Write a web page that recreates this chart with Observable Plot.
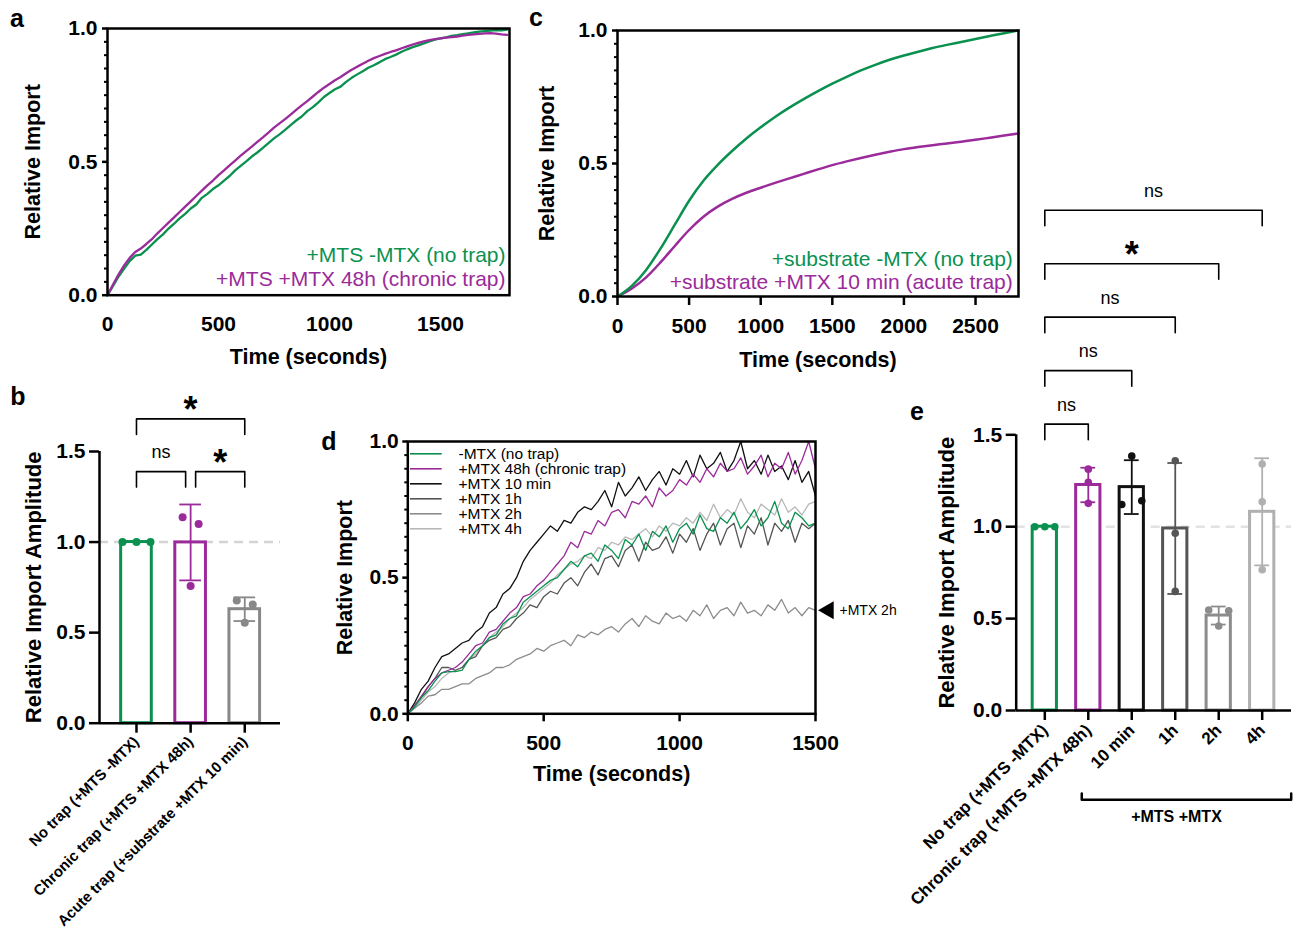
<!DOCTYPE html>
<html>
<head>
<meta charset="utf-8">
<script src="https://cdn.jsdelivr.net/npm/d3@7"></script>
<script src="https://cdn.jsdelivr.net/npm/@observablehq/plot@0.6"></script>
<style>
html,body{margin:0;padding:0;background:#fff;}
#fig{position:relative;width:1293px;height:936px;overflow:hidden;background:#fff;font-family:"Liberation Sans",Arial,Helvetica,sans-serif;}
.tag{position:absolute;font-weight:bold;font-size:25px;line-height:1;transform:translate(-50%,-50%);}
</style>
</head>
<body>
<div id="fig"></div>
<script>
// ================= DATA =================
const GREEN = "#0a914f", PURPLE = "#9b2a9a";

// ---- panel a : import kinetics, +MTS (time grid every 25 s)
const aTime = d3.range(0, 1801, 25);
const aNoTrap = [0,.035,.07,.1,.128,.148,.152,.17,.19,.21,
  .228,.25,.268,.288,.305,.325,.34,.365,.38,.398,
  .412,.43,.447,.468,.485,.502,.52,.535,.552,.57,
  .588,.603,.62,.638,.655,.67,.69,.705,.723,.743,
  .758,.772,.782,.8,.815,.828,.84,.853,.862,.873,
  .885,.893,.902,.913,.922,.93,.937,.944,.952,.958,
  .963,.967,.972,.975,.979,.982,.985,.988,.99,.992,
  .994,.993,.996];
const aChronic = [0,.04,.078,.112,.14,.162,.175,.192,.21,.232,
  .252,.272,.292,.312,.332,.352,.372,.392,.412,.43,
  .45,.468,.487,.505,.523,.54,.557,.575,.592,.61,
  .628,.644,.66,.677,.695,.712,.728,.745,.762,.778,
  .792,.806,.818,.832,.845,.857,.868,.879,.889,.897,
  .905,.912,.918,.926,.933,.94,.946,.952,.956,.96,
  .963,.966,.968,.97,.973,.976,.978,.98,.982,.983,
  .981,.978,.976];
const aNames = ["+MTS -MTX (no trap)", "+MTS +MTX 48h (chronic trap)"];

// ---- panel c : import kinetics, +substrate (time grid every 100 s)
const cTime = d3.range(0, 2801, 100);
const cNoTrap = [0,.04,.10,.18,.27,.36,.435,.495,.547,.594,.636,.675,.71,.742,.772,.8,.826,.85,.871,.89,.906,.92,.934,.946,.957,.968,.979,.99,1.0];
const cAcute = [0,.03,.072,.128,.19,.25,.30,.338,.367,.39,.409,.427,.444,.461,.478,.494,.508,.521,.533,.544,.554,.562,.569,.575,.582,.589,.597,.605,.613];
const cNames = ["+substrate -MTX (no trap)", "+substrate +MTX 10 min (acute trap)"];

// ---- panel d : import kinetics after MTX pre-incubation (time grid every 25 s)
const dTime = d3.range(0, 1501, 25);
const dNoTrap = [0,.025,.06,.085,.12,.15,.155,.155,.16,.2,
  .23,.25,.28,.29,.33,.35,.36,.41,.43,.45,
  .47,.49,.5,.53,.56,.54,.58,.59,.56,.62,
  .6,.57,.64,.62,.66,.6,.67,.65,.69,.63,
  .68,.7,.66,.73,.68,.67,.72,.7,.74,.68,
  .71,.75,.69,.72,.78,.7,.68,.74,.72,.69,
  .7];
const dChronic = [0,.03,.065,.1,.13,.15,.16,.17,.19,.22,
  .25,.26,.3,.31,.34,.37,.39,.43,.44,.47,
  .49,.52,.55,.58,.63,.61,.67,.66,.71,.69,
  .74,.75,.72,.78,.77,.8,.76,.83,.8,.82,
  .86,.84,.88,.85,.9,.87,.92,.89,.9,.94,
  .88,.91,.95,.87,.92,.9,.96,.88,.93,1.0,
  .9];
const dTenMin = [0,.04,.09,.12,.17,.21,.22,.24,.26,.27,
  .3,.32,.37,.39,.44,.46,.5,.56,.6,.63,
  .66,.69,.67,.71,.7,.74,.76,.75,.78,.82,
  .76,.85,.8,.83,.87,.82,.86,.89,.84,.9,
  .88,.93,.87,.95,.9,.92,.96,.89,.93,1.0,
  .9,.93,.88,.95,.89,.91,.86,.93,.85,.89,
  .8];
const dOneH = [0,.03,.06,.1,.13,.17,.17,.16,.17,.2,
  .21,.25,.27,.28,.31,.32,.35,.37,.4,.39,
  .43,.45,.44,.48,.5,.47,.52,.55,.51,.57,
  .58,.54,.6,.62,.56,.63,.6,.61,.65,.59,
  .66,.63,.68,.6,.66,.7,.62,.68,.7,.61,
  .69,.66,.72,.62,.7,.67,.71,.63,.7,.68,
  .7];
const dTwoH = [0,.02,.04,.065,.07,.09,.09,.1,.11,.11,
  .13,.14,.15,.17,.17,.18,.2,.21,.22,.24,
  .23,.25,.26,.27,.25,.29,.28,.3,.29,.31,
  .32,.3,.33,.35,.32,.36,.34,.33,.37,.35,
  .36,.34,.38,.36,.4,.35,.38,.39,.36,.41,
  .37,.38,.36,.4,.38,.42,.37,.39,.36,.39,
  .38];
const dFourH = [0,.02,.05,.08,.1,.13,.15,.16,.17,.2,
  .22,.25,.28,.3,.32,.35,.37,.39,.42,.44,
  .46,.48,.51,.53,.55,.56,.58,.57,.61,.6,
  .63,.62,.65,.64,.66,.68,.65,.69,.67,.7,
  .69,.72,.7,.74,.71,.77,.72,.75,.73,.79,
  .74,.72,.77,.75,.73,.79,.74,.76,.73,.77,
  .78];
const dNames = ["-MTX (no trap)", "+MTX 48h (chronic trap)", "+MTX 10 min", "+MTX 1h", "+MTX 2h", "+MTX 4h"];
const dSeries = [dNoTrap, dChronic, dTenMin, dOneH, dTwoH, dFourH];
const dColors = [GREEN, PURPLE, "#111111", "#555555", "#8c8c8c", "#b8b8b8"];
const dAnnotation = [{label: "+MTX 2h", value: 0.38}];

// ---- panel b : amplitudes (3 replicates each)
const bCats = ["No trap (+MTS -MTX)", "Chronic trap (+MTS +MTX 48h)", "Acute trap (+substrate +MTX 10 min)"];
const bReps = [[1.0, 1.0, 1.0], [1.137, 1.10, 0.757], [0.678, 0.655, 0.555]];
const bColors = [GREEN, PURPLE, "#888888"];
const bSig = [[0, 1, "ns"], [1, 2, "*"], [0, 2, "*"]];

// ---- panel e : amplitudes (3 replicates each)
const eCats = ["No trap (+MTS -MTX)", "Chronic trap (+MTS +MTX 48h)", "10 min", "1h", "2h", "4h"];
const eReps = [[1.0, 1.0, 1.0], [1.313, 1.241, 1.127], [1.384, 1.121, 1.141], [1.359, 0.964, 0.648], [0.547, 0.543, 0.46], [1.341, 1.136, 0.766]];
const eColors = [GREEN, PURPLE, "#111111", "#555555", "#8c8c8c", "#b0b0b0"];
const eSig = [[0, 1, "ns"], [0, 2, "ns"], [0, 3, "ns"], [0, 4, "*"], [0, 5, "ns"]];
const eGroup = {label: "+MTS +MTX", from: 2, to: 5};

const panelTags = ["a", "b", "c", "d", "e"];

// ================= LAYOUT / HELPERS =================
const FONT = '"Liberation Sans", Arial, Helvetica, sans-serif';
const fig = document.getElementById("fig");
function place(el, left, top) {
  el.style.position = "absolute";
  el.style.left = left + "px";
  el.style.top = top + "px";
  fig.appendChild(el);
}
function baseStyle() {
  return {fontFamily: FONT, fontSize: "21px", fontWeight: "bold", background: "transparent", overflow: "visible", color: "#000"};
}
const minorTicks = d3.range(0, 1.0001, 0.05).filter(v => Math.abs(v * 2 - Math.round(v * 2)) > 1e-6);

function timeCourse(o) {
  const marks = [];
  o.series.forEach(s => {
    const rows = o.time.map((t, i) => ({t, v: s.values[i]}));
    marks.push(Plot.line(rows, {x: "t", y: "v", stroke: s.color, strokeWidth: o.lineWidth, curve: o.curve || "linear"}));
  });
  marks.push(Plot.frame({strokeWidth: 2.5}));
  marks.push(Plot.axisY({ticks: minorTicks, tickSize: 3, tickFormat: () => "", strokeWidth: 2, label: null}));
  marks.push(Plot.axisY({ticks: [0, 0.5, 1], tickFormat: d3.format(".1f"), tickSize: o.yTickSize, tickPadding: o.yTickPad, strokeWidth: 2.5, label: null}));
  marks.push(Plot.axisX({ticks: o.xTicks, tickFormat: d3.format("d"), tickSize: o.xTickSize, tickPadding: o.xTickPad, strokeWidth: 2.5, label: null}));
  marks.push(Plot.text(["Relative Import"], {frameAnchor: "left", rotate: -90, dx: o.yLabelDx, fontSize: 21.5, textAnchor: "middle", lineAnchor: "middle"}));
  marks.push(Plot.text(["Time (seconds)"], {frameAnchor: "bottom", dy: o.xLabelDy, fontSize: 21.5, textAnchor: "middle", lineAnchor: "middle"}));
  (o.extra || []).forEach(m => marks.push(m));
  return Plot.plot({
    width: o.width, height: o.height,
    marginLeft: o.mL, marginRight: o.mR, marginTop: o.mT, marginBottom: o.mB,
    x: {domain: [0, o.xMax]}, y: {domain: [0, 1]},
    style: baseStyle(),
    marks
  });
}

function barPanel(o) {
  const stats = o.reps.map((r, i) => {
    const mean = d3.mean(r), sd = d3.deviation(r);
    return {i, mean, sd, lo: mean - sd, hi: mean + sd, color: o.colors[i]};
  });
  const err = stats.filter(s => s.sd > 1e-9);
  const dots = o.reps.flatMap((r, i) => r.map((v, j) => ({i, v, off: o.offsets[i][j], color: o.colors[i]})));
  const pxX = (o.axisRightPx - o.mL) / (o.xDomain[1] - o.xDomain[0]);
  const pxY = (o.height - o.mB - o.mT) / 1.5;
  // significance brackets
  const br = o.sig.map(([a, b, label], k) => ({a, b, label, k, level: b - a - 1}));
  const pts = [], labs = [];
  br.forEach(d => {
    const shared = (c) => br.some(e => e !== d && e.level === d.level && (e.a === c || e.b === c));
    const xa = d.a + (shared(d.a) ? o.gapPx / pxX : 0);
    const xb = d.b - (shared(d.b) ? o.gapPx / pxX : 0);
    const y = o.sigBase + d.level * o.sigStep;
    const y0 = y - o.dropPx / pxY;
    pts.push({x: xa, y: y0, k: d.k}, {x: xa, y, k: d.k}, {x: xb, y, k: d.k}, {x: xb, y: y0, k: d.k});
    labs.push({x: (xa + xb) / 2, y, label: d.label});
  });
  const marks = [
    Plot.ruleY([1], {stroke: o.dashColor, strokeWidth: 2.5, strokeDasharray: "9,6"}),
    Plot.rect(stats, {x1: d => d.i - o.barHalf, x2: d => d.i + o.barHalf, y1: 0, y2: "mean", fill: "white", stroke: "color", strokeWidth: 3}),
    Plot.ruleX(err, {x: "i", y1: "lo", y2: "hi", stroke: "color", strokeWidth: 1.8}),
    Plot.ruleY(err, {y: "hi", x1: d => d.i - o.capHalf, x2: d => d.i + o.capHalf, stroke: "color", strokeWidth: 1.8}),
    Plot.ruleY(err, {y: "lo", x1: d => d.i - o.capHalf, x2: d => d.i + o.capHalf, stroke: "color", strokeWidth: 1.8}),
    Plot.dot(dots, {x: d => d.i + d.off / pxX, y: "v", r: o.dotR, fill: "color", stroke: "none"}),
    Plot.ruleX([o.xDomain[0]], {y1: 0, y2: 1.5, strokeWidth: 2.5}),
    Plot.ruleY([0], {strokeWidth: 2.5}),
    Plot.axisY({ticks: [0, 0.5, 1, 1.5], tickFormat: d3.format(".1f"), tickSize: o.yTickSize, tickPadding: 4, strokeWidth: 2.5, label: null}),
    Plot.axisX({ticks: d3.range(o.cats.length), tickFormat: i => o.cats[i], tickSize: 10, tickPadding: o.xTickPad, tickRotate: -45, strokeWidth: 2.5, fontSize: o.catFont, label: null}),
    Plot.text(["Relative Import Amplitude"], {frameAnchor: "left", rotate: -90, dx: o.yLabelDx, fontSize: 22, textAnchor: "middle", lineAnchor: "middle"}),
    Plot.line(pts, {x: "x", y: "y", z: "k", stroke: "#000", strokeWidth: 1.6}),
    Plot.text(labs.filter(d => d.label === "ns"), {x: "x", y: "y", text: "label", dy: -19, fontSize: 18, fontWeight: "normal", lineAnchor: "middle"}),
    Plot.text(labs.filter(d => d.label === "*"), {x: "x", y: "y", text: "label", dy: -8, fontSize: 36, fontWeight: "bold", lineAnchor: "middle"})
  ];
  (o.extra ? o.extra(pxX, pxY) : []).forEach(m => marks.push(m));
  return Plot.plot({
    width: o.width, height: o.height,
    marginLeft: o.mL, marginRight: o.width - o.axisRightPx, marginTop: o.mT, marginBottom: o.mB,
    x: {type: "linear", domain: o.xDomain}, y: {domain: [0, 1.5]},
    color: {type: "identity"},
    style: baseStyle(),
    marks
  });
}

// ================= PANEL a =================
place(timeCourse({
  width: 530, height: 380, mL: 107, mR: 21, mT: 28, mB: 85.3,
  time: aTime, xMax: 1811, xTicks: [0, 500, 1000, 1500],
  series: [{values: aNoTrap, color: GREEN}, {values: aChronic, color: PURPLE}],
  lineWidth: 2.3, yTickSize: 5, yTickPad: 5, xTickSize: 0, xTickPad: 21,
  yLabelDx: -74, xLabelDy: 62,
  extra: [
    Plot.text([aNames[0]], {frameAnchor: "bottom-right", textAnchor: "end", lineAnchor: "middle", dx: -4, dy: -40, fill: GREEN, fontWeight: "normal", fontSize: 21}),
    Plot.text([aNames[1]], {frameAnchor: "bottom-right", textAnchor: "end", lineAnchor: "middle", dx: -4, dy: -15.5, fill: PURPLE, fontWeight: "normal", fontSize: 21})
  ]
}), 0, 0);

// ================= PANEL c =================
place(timeCourse({
  width: 500, height: 380, mL: 87, mR: 12, mT: 30, mB: 84,
  time: cTime, xMax: 2800, xTicks: [0, 500, 1000, 1500, 2000, 2500],
  series: [{values: cAcute, color: PURPLE}, {values: cNoTrap, color: GREEN}],
  lineWidth: 2.5, curve: "monotone-x", yTickSize: 5, yTickPad: 5, xTickSize: 9, xTickPad: 12.5,
  yLabelDx: -70.3, xLabelDy: 64,
  extra: [
    Plot.text([cNames[0]], {frameAnchor: "bottom-right", textAnchor: "end", lineAnchor: "middle", dx: -5.7, dy: -37.7, fill: GREEN, fontWeight: "normal", fontSize: 21}),
    Plot.text([cNames[1]], {frameAnchor: "bottom-right", textAnchor: "end", lineAnchor: "middle", dx: -5.7, dy: -14.3, fill: PURPLE, fontWeight: "normal", fontSize: 21})
  ]
}), 530, 0);

// ================= PANEL d =================
{
  const pxPerS = (815 - 407.3) / 1500, pxPerV = 713.3 - 441;
  const leg = {top: 12.3, step: 15, x1: 2.7, x2: 34.4, tx: 50.7};
  const legRows = dNames.map((name, k) => ({name, color: dColors[k], y: 1 - (leg.top + leg.step * k) / pxPerV}));
  const drawOrder = [5, 4, 3, 2, 1, 0];
  place(timeCourse({
    width: 590, height: 380, mL: 87.3, mR: 95, mT: 21, mB: 86.7,
    time: dTime, xMax: 1500, xTicks: [0, 500, 1000, 1500],
    series: drawOrder.map(k => ({values: dSeries[k], color: dColors[k]})),
    lineWidth: 1.3, yTickSize: 5, yTickPad: 4, xTickSize: 8, xTickPad: 13,
    yLabelDx: -62.3, xLabelDy: 60.7,
    extra: [
      Plot.ruleY(legRows, {y: "y", x1: leg.x1 / pxPerS, x2: leg.x2 / pxPerS, stroke: "color", strokeWidth: 1.6}),
      Plot.text(legRows, {x: leg.tx / pxPerS, y: "y", text: "name", textAnchor: "start", lineAnchor: "middle", fontWeight: "normal", fontSize: 15.5}),
      Plot.dot(dAnnotation, {x: 1500, y: "value", symbol: "triangle", r: 6.7, fill: "#000", stroke: "none", rotate: -90, dx: 13}),
      Plot.text(dAnnotation, {x: 1500, y: "value", text: "label", textAnchor: "start", lineAnchor: "middle", dx: 24, fontWeight: "normal", fontSize: 14})
    ]
  }), 320, 420);
}

// ================= PANEL b =================
place(barPanel({
  width: 300, height: 556, mL: 99, axisRightPx: 280, mT: 71, mB: 213.3,
  xDomain: [-0.683, 2.66], cats: bCats, reps: bReps, colors: bColors,
  offsets: [[-14, 0, 14], [-8, 8, 0], [-8, 8, 0]],
  barHalf: 0.283, capHalf: 0.2, dotR: 4, dashColor: "#d4d4d4",
  sig: bSig, sigBase: 1.389, sigStep: 0.291, dropPx: 15.5, gapPx: 5,
  yTickSize: 10, xTickPad: 6, catFont: 15, yLabelDx: -66
}), 0, 380);

// ================= PANEL e =================
place(barPanel({
  width: 393, height: 766, mL: 115.7, axisRightPx: 391, mT: 264.3, mB: 226,
  xDomain: [-0.658, 5.674], cats: eCats, reps: eReps, colors: eColors,
  offsets: [[-10, 0, 10], [0, 0, 0], [0, -10, 10], [0, 0, 0], [-10, 10, 0], [0, 0, 0]],
  barHalf: 0.279, capHalf: 0.17, dotR: 3.8, dashColor: "#e2e2e2",
  sig: eSig, sigBase: 1.558, sigStep: 0.291, dropPx: 15.6, gapPx: 5,
  yTickSize: 10, xTickPad: 7, catFont: 17, yLabelDx: -69.7,
  extra: (pxX, pxY) => {
    const yb = -89.3 / pxY, up = 6.3 / pxY;
    const xa = eGroup.from - 50 / pxX, xb = eGroup.to + 29 / pxX;
    const gp = [{x: xa, y: yb + up}, {x: xa, y: yb}, {x: xb, y: yb}, {x: xb, y: yb + up}];
    return [
      Plot.line(gp, {x: "x", y: "y", stroke: "#000", strokeWidth: 2.5}),
      Plot.text([eGroup], {x: d => (xa + xb) / 2 - 10 / pxX, y: yb - 17 / pxY, text: "label", fontSize: 16, fontWeight: "bold", lineAnchor: "middle"})
    ];
  }
}), 900, 170);

// ================= PANEL TAGS =================
const tagPos = [[17, 18], [18, 396], [536, 17], [329, 441], [917, 411]];
panelTags.forEach((t, k) => {
  const el = document.createElement("div");
  el.className = "tag";
  el.textContent = t;
  el.style.left = tagPos[k][0] + "px";
  el.style.top = tagPos[k][1] + "px";
  fig.appendChild(el);
});
</script>
</body>
</html>
